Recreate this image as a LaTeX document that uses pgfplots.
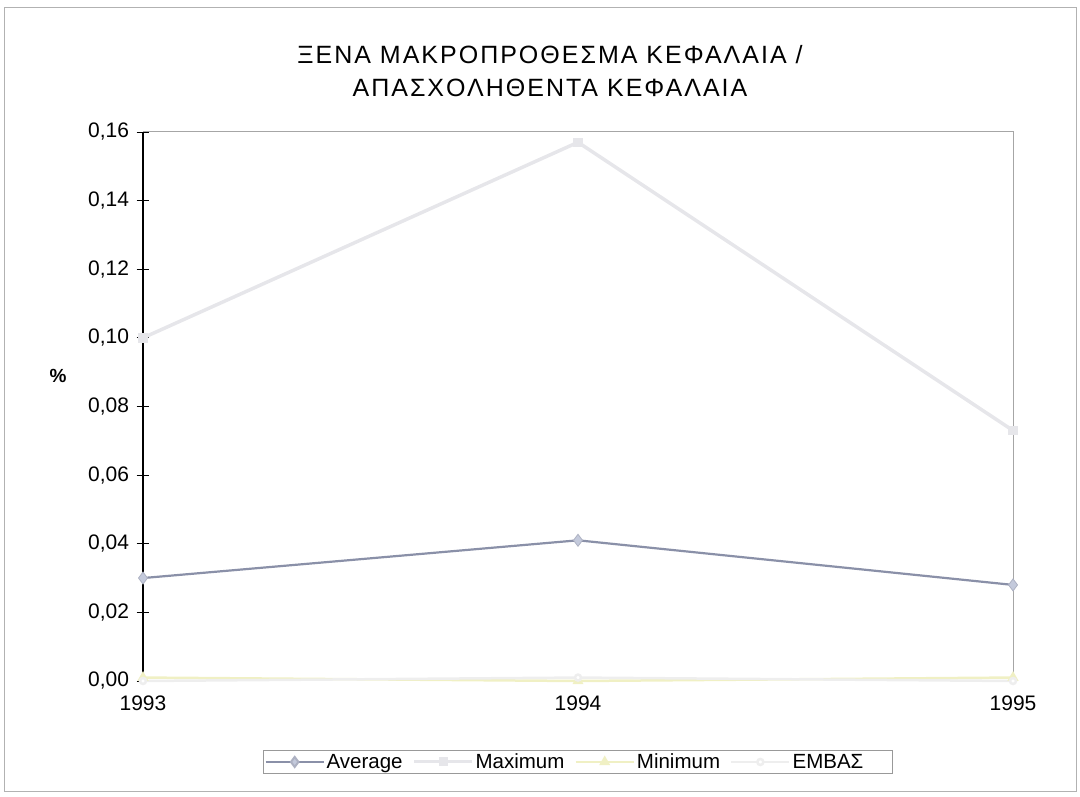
\documentclass[border=0pt]{standalone}
\usepackage{pgfplots}
\pgfplotsset{compat=1.18}
\usepackage{fontspec}
\setmainfont{Liberation Sans}
\definecolor{avgline}{HTML}{8A90A8}
\definecolor{avgfill}{HTML}{C4CADC}
\definecolor{maxline}{HTML}{E6E6EA}
\definecolor{minline}{HTML}{F0F0C4}
\definecolor{embline}{HTML}{EEEEEE}
\begin{document}
\begin{tikzpicture}[x=1bp,y=1bp]
\path[use as bounding box] (0,0) rectangle (1080,797);
\draw[gray!60, line width=1bp] (4,5) rectangle (1076,789);
\node[font=\fontsize{25bp}{33bp}\selectfont\addfontfeatures{LetterSpace=8}, align=center] at (550,726) {ΞΕΝΑ ΜΑΚΡΟΠΡΟΘΕΣΜΑ ΚΕΦΑΛΑΙΑ /\\ΑΠΑΣΧΟΛΗΘΕΝΤΑ ΚΕΦΑΛΑΙΑ};
\node[font=\fontsize{19bp}{20bp}\selectfont\bfseries] at (58,421) {\%};
\begin{axis}[
  at={(143bp,116bp)}, anchor=south west,
  scale only axis, width=870bp, height=549bp,
  xmin=1993, xmax=1995, ymin=0, ymax=0.16,
  xtick={1993,1994,1995}, xticklabels={1993,1994,1995},
  ytick={0,0.02,0.04,0.06,0.08,0.10,0.12,0.14,0.16},
  ytick pos=left,
  yticklabel style={xshift=-4bp, /pgf/number format/.cd, use comma, fixed, fixed zerofill, precision=2, assume math mode=true},
  ticklabel style={font=\fontsize{21bp}{23bp}\selectfont},
  axis line style={draw=none},
  tick align=center,
  y tick style={black, line width=0.8bp},
  major tick length=13bp,
  x tick style={draw=none},
  xticklabel style={yshift=-5bp},
  clip=false,
]
\addplot[minline, line width=2.5bp, mark=triangle*, mark size=4bp, mark options={fill=minline}] coordinates {(1993,0.001) (1994,0.000) (1995,0.001)};
\addplot[embline, line width=2.5bp, mark=*, mark size=3bp, mark options={fill=white}] coordinates {(1993,0.000) (1994,0.001) (1995,0.000)};
\addplot[maxline, line width=3.5bp, mark=square*, mark size=3bp, mark options={fill=maxline}] coordinates {(1993,0.100) (1994,0.157) (1995,0.073)};
\addplot[avgline, line width=2.2bp, mark=diamond*, mark size=6bp, mark options={fill=avgfill, draw=avgline!70, line width=0.8bp}] coordinates {(1993,0.030) (1994,0.041) (1995,0.028)};
\draw[gray!70, line width=1bp] (rel axis cs:0,1) -- (rel axis cs:1,1) -- (rel axis cs:1,0);
\draw[black, line width=1.3bp] (rel axis cs:0,0) -- (rel axis cs:0,1);
\end{axis}
\begin{axis}[
  at={(143bp,116bp)}, anchor=south west,
  scale only axis, width=870bp, height=549bp,
  xmin=1993, xmax=1995, ymin=0, ymax=0.16, hide axis,
  legend columns=4,
  legend style={at={(0.5,-0.1475)}, anchor=center, draw=gray!80, line width=1bp,
    font=\fontsize{20.5bp}{22bp}\selectfont, inner sep=1.5bp,
    /tikz/every even column/.append style={column sep=8bp}},
  legend image code/.code={\draw[mark repeat=2,mark phase=2,#1] plot coordinates {(0bp,0bp) (29bp,0bp) (58bp,0bp)};},
]
\addlegendimage{avgline, line width=2bp, mark=diamond*, mark size=5bp, mark options={fill=avgfill, draw=avgline!70}}
\addlegendentry{Average}
\addlegendimage{maxline, line width=3bp, mark=square*, mark size=3bp, mark options={fill=maxline}}
\addlegendentry{Maximum}
\addlegendimage{minline, line width=2.5bp, mark=triangle*, mark size=4bp, mark options={fill=minline}}
\addlegendentry{Minimum}
\addlegendimage{embline, line width=2.5bp, mark=*, mark size=3bp, mark options={fill=white}}
\addlegendentry{ΕΜΒΑΣ\rule{26bp}{0pt}}
\end{axis}
\end{tikzpicture}
\end{document}
